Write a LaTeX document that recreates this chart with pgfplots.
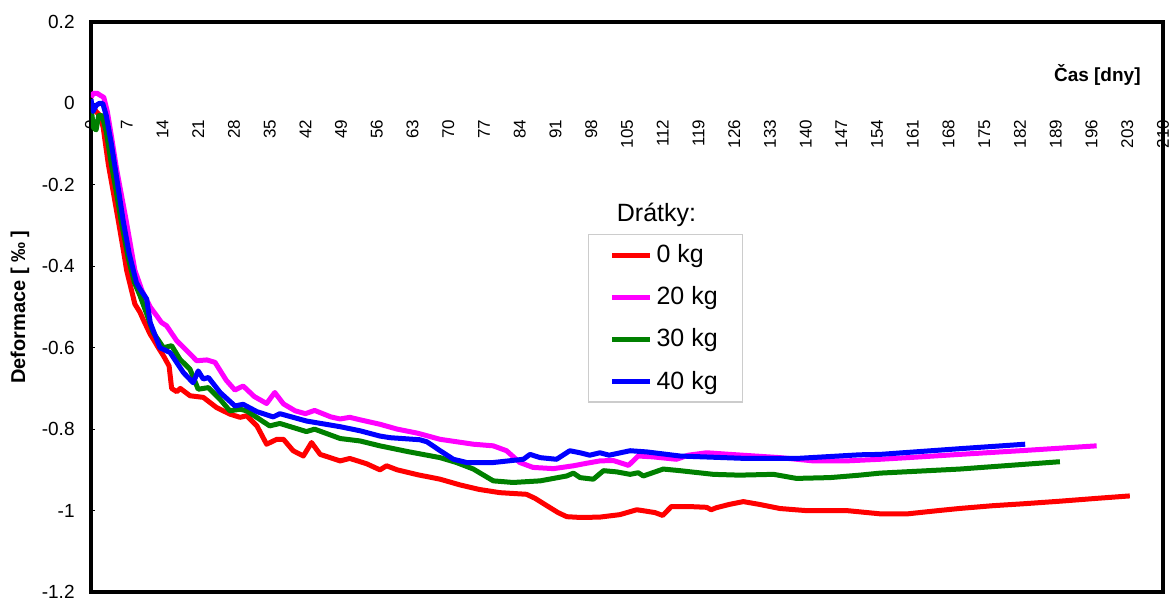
\documentclass[border=0pt]{standalone}
\usepackage{fontspec}
\setmainfont{Liberation Sans}
\usepackage{pgfplots}
\pgfplotsset{compat=1.18}
\definecolor{cRed}{RGB}{255,0,0}
\definecolor{cMag}{RGB}{255,0,255}
\definecolor{cGreen}{RGB}{0,128,0}
\definecolor{cBlue}{RGB}{0,0,255}
\begin{document}
\begin{tikzpicture}
\path[use as bounding box] (-45.5pt,-4.5pt) rectangle (541.5pt,296pt);
% overlay axis: x tick labels along y=0
\begin{axis}[
  scale only axis, width=536pt, height=285pt,
  xmin=0, xmax=210, ymin=-1.2, ymax=0.2,
  axis x line=middle, axis y line=none,
  axis line style={draw=none},
  xtick={0,7,14,21,28,35,42,49,56,63,70,77,84,91,98,105,112,119,126,133,140,147,154,161,168,175,182,189,196,203,210},
  ytick=\empty,
  major tick length=0pt,
  /pgf/number format/assume math mode=true,
  xticklabel style={rotate=90, anchor=east, inner sep=0pt, font=\fontsize{8.5}{10}\selectfont},
  xticklabel shift=8pt,
]
\end{axis}
\begin{axis}[
  scale only axis, width=536pt, height=285pt,
  xmin=0, xmax=210, ymin=-1.2, ymax=0.2,
  axis line style={line width=2pt, black},
  xtick=\empty,
  ytick={-1.2,-1,-0.8,-0.6,-0.4,-0.2,0,0.2},
  ytick pos=left, tick align=inside, major tick length=2pt,
  tick style={black, line width=0.6pt},
  /pgf/number format/assume math mode=true,
  yticklabel style={inner sep=0pt, anchor=east, font=\fontsize{9.5}{11}\selectfont},
  yticklabel shift=8pt,
  ylabel={\bfseries Deformace [ ‰ ]},
  ylabel style={at={(axis description cs:-0.0662,0.5)}, anchor=center, font=\fontsize{10}{12}\selectfont},
  legend cell align=left,
  legend style={at={(rel axis cs:0.4636,0.628)}, anchor=north west,
    draw=black!20, line width=0.6pt, font=\fontsize{12.5}{15}\selectfont,
    inner xsep=10.5pt, inner ysep=3pt, row sep=6.5pt},
  legend image code/.code={\draw[#1] (0pt,0pt) -- (19pt,0pt);},
  every axis plot/.append style={line width=2.5pt, line join=round},
]
\addplot[cRed] coordinates {
(0,0.0) (1,-0.02) (1.8,-0.03) (2.4,-0.06) (3.4,-0.15) (4.4,-0.22) (5.35,-0.288) (6.2,-0.35) (7,-0.411) (8.6,-0.493) (9.6,-0.513) (10.2,-0.53) (11.6,-0.567) (12.2,-0.579) (13.2,-0.60) (14.2,-0.62) (15.3,-0.645) (15.8,-0.70) (16.8,-0.708) (17.5,-0.70) (19.4,-0.718) (22,-0.722) (24.6,-0.747) (27.2,-0.763) (29.2,-0.771) (30.5,-0.767) (32.5,-0.792) (34.4,-0.837) (36.4,-0.825) (37.7,-0.825) (39.6,-0.853) (41.6,-0.866) (43.2,-0.833) (44.9,-0.862) (48.8,-0.878) (50.7,-0.872) (54,-0.885) (56.6,-0.9) (57.9,-0.89) (60,-0.9) (64,-0.912) (68.4,-0.923) (72.3,-0.937) (76,-0.948) (80.1,-0.956) (85.3,-0.96) (87,-0.97) (89.3,-0.988) (91.5,-1.005) (93.2,-1.015) (96,-1.017) (99.7,-1.016) (103.6,-1.01) (106.9,-0.998) (108,-1.0) (110.5,-1.005) (112,-1.012) (113.7,-0.99) (117,-0.99) (120.6,-0.992) (121.5,-0.998) (122.5,-0.993) (125,-0.985) (127.8,-0.978) (131,-0.985) (135,-0.995) (140,-1.0) (148,-1.0) (154.6,-1.008) (160,-1.008) (166,-1.0) (170,-0.995) (176.7,-0.988) (183,-0.983) (189.8,-0.977) (197,-0.97) (203.5,-0.964)
};
\addlegendentry{0 kg}
\addplot[cMag] coordinates {
(0,0.015) (0.5,0.025) (1.2,0.025) (1.8,0.02) (2.5,0.015) (3.2,-0.02) (4,-0.08) (5,-0.16) (6.9,-0.288) (8.6,-0.41) (10,-0.46) (11.6,-0.5) (12.9,-0.522) (13.8,-0.538) (14.8,-0.546) (16.8,-0.583) (19.4,-0.615) (20.7,-0.632) (22.7,-0.63) (24.3,-0.636) (26.5,-0.68) (28.2,-0.704) (29.8,-0.694) (32,-0.72) (34.4,-0.737) (36,-0.71) (37.7,-0.738) (40,-0.755) (42,-0.762) (43.8,-0.754) (47,-0.77) (48.8,-0.775) (50.7,-0.771) (52.7,-0.777) (56.6,-0.788) (60,-0.80) (64,-0.81) (68.4,-0.825) (74.9,-0.837) (78.8,-0.841) (81.4,-0.853) (84,-0.882) (86.6,-0.894) (90.6,-0.897) (94.5,-0.89) (97,-0.884) (99.7,-0.878) (102.3,-0.877) (105.3,-0.889) (107.2,-0.866) (110,-0.868) (114.7,-0.874) (117,-0.864) (120.6,-0.858) (125.2,-0.862) (135,-0.87) (141.5,-0.878) (148,-0.878) (154.6,-0.874) (160,-0.87) (170.2,-0.862) (183.3,-0.852) (197,-0.841)
};
\addlegendentry{20 kg}
\addplot[cGreen] coordinates {
(0,-0.01) (0.5,-0.06) (1,-0.065) (1.5,-0.03) (2.2,-0.03) (3,-0.07) (4,-0.15) (5,-0.22) (5.9,-0.288) (7.3,-0.38) (8.5,-0.44) (9.6,-0.472) (11,-0.52) (12.2,-0.563) (14.2,-0.6) (15.8,-0.595) (17.4,-0.628) (19.4,-0.653) (21,-0.702) (23,-0.698) (25.3,-0.727) (27.2,-0.755) (29.2,-0.751) (30.5,-0.755) (35,-0.792) (37,-0.786) (42.2,-0.806) (43.8,-0.80) (48.8,-0.823) (52.7,-0.829) (56.6,-0.841) (62,-0.855) (68.4,-0.87) (71.6,-0.882) (74.9,-0.898) (78.8,-0.927) (82.7,-0.931) (88,-0.927) (93.2,-0.915) (94.5,-0.908) (95.8,-0.919) (98.4,-0.923) (100.4,-0.902) (103,-0.905) (105.6,-0.911) (107.2,-0.907) (108.2,-0.915) (112.1,-0.898) (115.4,-0.902) (121.9,-0.911) (127,-0.913) (133.7,-0.911) (138.2,-0.921) (144.8,-0.919) (150.6,-0.913) (154.6,-0.908) (170.2,-0.898) (189.8,-0.88)
};
\addlegendentry{30 kg}
\addplot[cBlue] coordinates {
(0,0.01) (0.4,-0.02) (1,-0.005) (1.6,0.0) (2.3,0.0) (3,-0.03) (4,-0.1) (5,-0.18) (6.3,-0.288) (7.5,-0.37) (8.9,-0.44) (9.6,-0.456) (10.9,-0.48) (11.6,-0.538) (13.5,-0.6) (15.5,-0.612) (18.1,-0.661) (20,-0.686) (21,-0.657) (22,-0.677) (23,-0.673) (25.3,-0.71) (28.2,-0.743) (29.8,-0.739) (32.5,-0.757) (35.7,-0.77) (37,-0.762) (42.2,-0.78) (48.8,-0.794) (52.7,-0.804) (56.6,-0.817) (58.6,-0.821) (64.4,-0.826) (65.8,-0.831) (68.4,-0.853) (71,-0.874) (73.6,-0.882) (78.8,-0.882) (84.7,-0.874) (86,-0.862) (88,-0.87) (91.2,-0.874) (93.8,-0.853) (95.8,-0.858) (97.7,-0.864) (99.7,-0.858) (101.5,-0.864) (105.6,-0.853) (108.9,-0.856) (115.4,-0.866) (128.4,-0.872) (138.2,-0.872) (150.6,-0.863) (154.6,-0.862) (170.2,-0.848) (183,-0.837)
};
\addlegendentry{40 kg}
\node[anchor=east, font=\fontsize{9.5}{11}\selectfont\bfseries] at (axis cs:207,0.069) {Čas [dny]};
\node[anchor=west, font=\fontsize{12.5}{15}\selectfont] at (rel axis cs:0.484,0.661) {Drátky:};
\end{axis}
\end{tikzpicture}
\end{document}
